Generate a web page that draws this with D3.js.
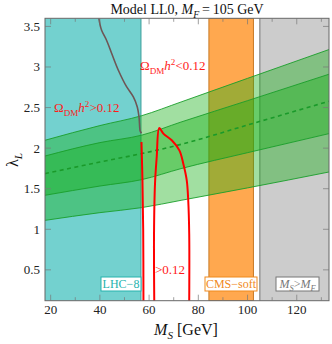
<!DOCTYPE html>
<html>
<head>
<meta charset="utf-8">
<script src="https://cdn.jsdelivr.net/npm/d3@7.9.0/dist/d3.min.js"></script>
<style>
body { margin: 0; background: #fff; }
svg { display: block; font-family: "Liberation Serif", "DejaVu Serif", serif; }
</style>
</head>
<body>
<svg id="chart" width="332" height="344"></svg>
<script>
// green bands (lambda_L vs M_S), sampled along M_S
const msGrid = [17.7, 40, 57, 73, 100, 133.1];
const outerTop = [2.097, 2.278, 2.40, 2.569, 2.86, 3.215];
const innerTop = [1.903, 2.068, 2.16, 2.322, 2.585, 2.911];
const center = [1.686, 1.829, 1.933, 2.047, 2.285, 2.578];
const innerBottom = [1.419, 1.533, 1.612, 1.748, 1.944, 2.179];
const outerBottom = [1.11, 1.205, 1.267, 1.357, 1.51, 1.706];

// grey-brown contour
const grayMs = [39.6, 40.7, 42.7, 44.8, 47.5, 50.9, 53.6, 55.2, 55.9, 56.3, 56.9];
const grayLam = [3.6, 3.453, 3.33, 3.166, 2.96, 2.754, 2.631, 2.507, 2.384, 2.22, 2.183];

// relic density contours, Omega h^2 = 0.12
const red1Ms = [56.9, 57.3, 57.6, 57.7];
const red1Lam = [2.076, 1.6, 0.99, 0.1];
const red2Ms = [62.1, 62.0, 62.4, 63.1, 64.15, 65.8, 69.2, 72.3, 73.9, 75.3, 75.9, 76.3, 76.3];
const red2Lam = [0.1, 0.946, 1.563, 1.891, 2.248, 2.179, 2.097, 1.973, 1.809, 1.604, 1.357, 0.946, 0.1];

// excluded regions
const lhcMax = 56.7;
const cmsRange = [84.3, 102.4];
const mF = 105;

const xTicks = [20, 40, 60, 80, 100, 120];
const yTicks = [0.5, 1, 1.5, 2, 2.5, 3, 3.5];

const svg = d3.select("#chart");
const x = d3.scaleLinear().domain([17.7, 133.1]).range([45, 329]);
const y = d3.scaleLinear().domain([0.12, 3.6]).range([300.7, 18.3]);
const [x0, x1] = x.range();
const [y0, y1] = y.range();

svg.append("clipPath").attr("id", "clip")
  .append("rect").attr("x", x0).attr("y", y1).attr("width", x1 - x0).attr("height", y0 - y1);

const plot = svg.append("g").attr("clip-path", "url(#clip)");

// LHC-8
plot.append("rect")
  .attr("x", x0).attr("y", y1)
  .attr("width", x(lhcMax) - x0).attr("height", y0 - y1)
  .attr("fill", "#73d1cf");
plot.append("line")
  .attr("x1", x(lhcMax)).attr("x2", x(lhcMax)).attr("y1", y1).attr("y2", y0)
  .attr("stroke", "#3c9f9b").attr("stroke-width", 1);

// CMS soft
plot.append("rect")
  .attr("x", x(cmsRange[0])).attr("y", y1)
  .attr("width", x(cmsRange[1]) - x(cmsRange[0])).attr("height", y0 - y1)
  .attr("fill", "#ffa84f")
  .attr("stroke", "#c97a26").attr("stroke-width", 1);

// M_S > M_F
plot.append("rect")
  .attr("x", x(mF)).attr("y", y1)
  .attr("width", x1 - x(mF)).attr("height", y0 - y1)
  .attr("fill", "#cccccc");
plot.append("line")
  .attr("x1", x(mF)).attr("x2", x(mF)).attr("y1", y1).attr("y2", y0)
  .attr("stroke", "#999").attr("stroke-width", 1.5);

// green bands
const bandArea = (lo, hi) => d3.area()
  .x((d, i) => x(msGrid[i]))
  .y0((d, i) => y(lo[i]))
  .y1((d, i) => y(hi[i]))
  .curve(d3.curveMonotoneX)(msGrid);

const edge = (vals) => d3.line()
  .x((d, i) => x(msGrid[i]))
  .y((d, i) => y(vals[i]))
  .curve(d3.curveMonotoneX)(msGrid);

plot.append("path").attr("d", bandArea(outerBottom, outerTop))
  .attr("fill", "rgb(20,175,20)").attr("fill-opacity", 0.4);
plot.append("path").attr("d", bandArea(innerBottom, innerTop))
  .attr("fill", "rgb(20,175,20)").attr("fill-opacity", 0.4);

[outerTop, innerTop, innerBottom, outerBottom].forEach((vals) => {
  plot.append("path").attr("d", edge(vals))
    .attr("fill", "none").attr("stroke", "#1a9e2a").attr("stroke-width", 0.9);
});
plot.append("path").attr("d", edge(center))
  .attr("fill", "none").attr("stroke", "#1a9a2a")
  .attr("stroke-width", 1.6).attr("stroke-dasharray", "4,3.5");

// grey contour
plot.append("path")
  .attr("d", d3.line().x((d, i) => x(grayMs[i])).y((d, i) => y(grayLam[i])).curve(d3.curveMonotoneY)(grayMs))
  .attr("fill", "none").attr("stroke", "#6e5656").attr("stroke-width", 1.6);

// red contours
const redLine = (ms, lam) => d3.line()
  .x((d, i) => x(ms[i])).y((d, i) => y(lam[i]))
  .curve(d3.curveCatmullRom.alpha(0.5))(ms);
plot.append("path").attr("d", redLine(red1Ms, red1Lam))
  .attr("fill", "none").attr("stroke", "#ff0000").attr("stroke-width", 2);
plot.append("path").attr("d", redLine(red2Ms, red2Lam))
  .attr("fill", "none").attr("stroke", "#ff0000").attr("stroke-width", 2);

// rich text helper: segments of [text, style]
function richText(g, px, py, segs, size, color, anchor) {
  const t = g.append("text").attr("x", px).attr("y", py)
    .attr("font-size", size).attr("fill", color)
    .attr("text-anchor", anchor || "start");
  let shift = 0;
  segs.forEach(([txt, st]) => {
    let target = 0;
    if (st && st.includes("sub")) target = size * 0.28;
    if (st && st.includes("sup")) target = -size * 0.38;
    const sp = t.append("tspan").text(txt).attr("dy", target - shift);
    shift = target;
    if (st && (st.includes("sub") || st.includes("sup"))) sp.attr("font-size", size * 0.7);
    if (st && st.includes("i")) sp.attr("font-style", "italic");
  });
  return t;
}

// region labels
richText(svg, 54, 112, [["\u03A9", ""], ["DM", "sub"], ["h", "i"], ["2", "sup"], [">0.12", ""]], 13, "#ff1a1a");
richText(svg, 140, 70, [["\u03A9", ""], ["DM", "sub"], ["h", "i"], ["2", "sup"], ["<0.12", ""]], 13, "#ff1a1a");
richText(svg, 155, 274, [[">0.12", ""]], 13, "#ff1a1a");

// boxed labels
const boxes = [
  { x: 101, w: 40, text: [["LHC\u22128", ""]], color: "#26b3ae" },
  { x: 205, w: 52, text: [["CMS\u2212soft", ""]], color: "#f0891c" },
  { x: 276, w: 43, text: [["M", "i"], ["S", "i sub"], [">", ""], ["M", "i"], ["F", "i sub"]], color: "#777" }
];
boxes.forEach((b) => {
  svg.append("rect").attr("x", b.x).attr("y", 277).attr("width", b.w).attr("height", 14)
    .attr("fill", "#fff").attr("stroke", b.color).attr("stroke-width", 1);
  richText(svg, b.x + b.w / 2, 288, b.text, 12, b.color, "middle");
});

// frame and ticks
const axisCol = "#666";
svg.append("rect").attr("x", x0).attr("y", y1).attr("width", x1 - x0).attr("height", y0 - y1)
  .attr("fill", "none").attr("stroke", axisCol).attr("stroke-width", 1);

const xMinor = d3.range(20, 134, 10).filter((v) => !xTicks.includes(v));
const tg = svg.append("g").attr("stroke", "#777").attr("stroke-width", 0.7);
xTicks.forEach((v) => {
  tg.append("line").attr("x1", x(v)).attr("x2", x(v)).attr("y1", y0).attr("y2", y0 - 6);
  tg.append("line").attr("x1", x(v)).attr("x2", x(v)).attr("y1", y1).attr("y2", y1 + 6);
});
xMinor.forEach((v) => {
  tg.append("line").attr("x1", x(v)).attr("x2", x(v)).attr("y1", y0).attr("y2", y0 - 3.5);
  tg.append("line").attr("x1", x(v)).attr("x2", x(v)).attr("y1", y1).attr("y2", y1 + 3.5);
});
yTicks.forEach((v) => {
  tg.append("line").attr("x1", x0).attr("x2", x0 + 6).attr("y1", y(v)).attr("y2", y(v));
  tg.append("line").attr("x1", x1).attr("x2", x1 - 6).attr("y1", y(v)).attr("y2", y(v));
});

svg.append("g").selectAll("text").data(xTicks).join("text")
  .attr("x", (d) => x(d)).attr("y", 314)
  .attr("text-anchor", "middle").attr("font-size", 13).attr("fill", "#222")
  .text((d) => d);
svg.append("g").selectAll("text").data(yTicks).join("text")
  .attr("x", 40).attr("y", (d) => y(d) + 4.5)
  .attr("text-anchor", "end").attr("font-size", 13).attr("fill", "#222")
  .text((d) => d);

// titles
richText(svg, 187, 14, [["Model LL0, ", ""], ["M", "i"], ["F", "i sub"], ["\u2009=\u2009105 GeV", ""]], 14, "#111", "middle");
richText(svg, 186, 335, [["M", "i"], ["S", "i sub"], [" [GeV]", ""]], 16, "#111", "middle");
richText(svg.append("g").attr("transform", "translate(18,160) rotate(-90)"), 0, 0,
  [["\u03BB", ""], ["L", "i sub"]], 16, "#111", "middle");
</script>
</body>
</html>
